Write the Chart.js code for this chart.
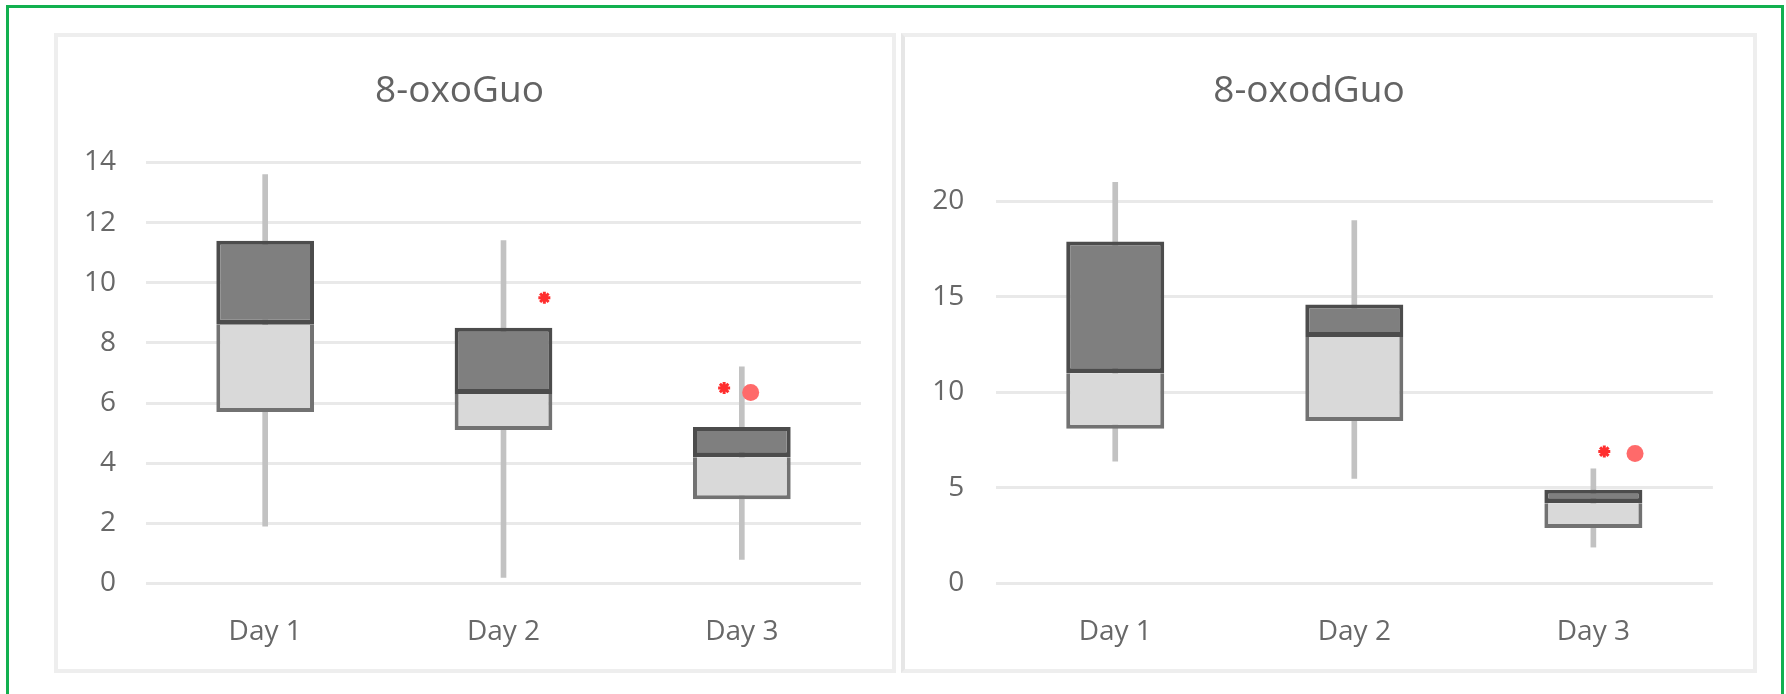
<!DOCTYPE html>
<html>
<head>
<meta charset="utf-8">
<title>8-oxoGuo / 8-oxodGuo</title>
<script src="https://cdn.jsdelivr.net/npm/chart.js@4/dist/chart.umd.min.js"></script>
<style>
  html, body { margin: 0; padding: 0; background: #fff; }
  body { width: 1786px; height: 694px; position: relative; overflow: hidden; }
  .frame {
    position: absolute; left: 6px; top: 5px; width: 1772px; height: 720px;
    border: 3px solid #12b04f;
  }
  .panel {
    position: absolute; top: 33px; height: 632px;
    border: 4px solid #eeeeee; background: #fff;
  }
  #panelLeft { left: 54px; width: 834px; }
  #panelRight { left: 901px; width: 848px; border-left-color: #e6e6e6; }
  canvas { display: block; }
</style>
</head>
<body>
<div class="frame"></div>
<div class="panel" id="panelLeft"><canvas id="guoChart" width="834" height="632"></canvas></div>
<div class="panel" id="panelRight"><canvas id="dguoChart" width="848" height="632"></canvas></div>

<script>
// categories
const days = ["Day 1", "Day 2", "Day 3"];

// 8-oxoGuo box values
const guoMin = [1.9, 0.2, 0.8];
const guoQ1 = [5.7, 5.1, 2.8];
const guoMedian = [8.6, 6.3, 4.2];
const guoQ3 = [11.4, 8.5, 5.2];
const guoMax = [13.6, 11.4, 7.2];
// red marks (x in category units, 0 = Day 1)
const guoStarX = [1.2, 2.08];
const guoStarY = [9.5, 6.5];
const guoDotX = [2.21];
const guoDotY = [6.35];
const guoTicks = [0, 2, 4, 6, 8, 10, 12, 14];

// 8-oxodGuo box values
const dguoMin = [6.4, 5.5, 1.9];
const dguoQ1 = [8.1, 8.5, 2.9];
const dguoMedian = [11.0, 12.9, 4.2];
const dguoQ3 = [17.9, 14.6, 4.9];
const dguoMax = [21.0, 19.0, 6.0];
const dguoStarX = [2.22];
const dguoStarY = [6.9];
const dguoDotX = [2.37];
const dguoDotY = [6.8];
const dguoTicks = [0, 5, 10, 15, 20];

const textColor = "#686868";
const fontFamily = "'Open Sans', sans-serif";

function pairs(a, b) {
  return a.map((v, i) => [v, b[i]]);
}
function points(xs, ys) {
  return xs.map((x, i) => ({ x: x, y: ys[i] }));
}

function makeBoxChart(id, s) {
  const ctx = document.getElementById(id).getContext("2d");
  return new Chart(ctx, {
    type: "bar",
    data: {
      labels: days,
      datasets: [
        {
          type: "scatter",
          xAxisID: "xm",
          data: points(s.starX, s.starY),
          pointStyle: "star",
          radius: 6,
          borderWidth: 3,
          borderColor: "#ff2f2f",
          backgroundColor: "#ff2f2f",
          order: 0
        },
        {
          type: "scatter",
          xAxisID: "xm",
          data: points(s.dotX, s.dotY),
          pointStyle: "circle",
          radius: 8.5,
          borderWidth: 0,
          backgroundColor: "#ff6a6a",
          order: 0
        },
        {
          // median to Q3
          data: pairs(s.median, s.q3),
          grouped: false,
          barPercentage: 0.41,
          categoryPercentage: 1,
          backgroundColor: "#7f7f7f",
          borderColor: "#4c4c4c",
          borderWidth: { top: 4, left: 4, right: 4, bottom: 5 },
          borderSkipped: false,
          order: 1
        },
        {
          // Q1 to median
          data: pairs(s.q1, s.median),
          grouped: false,
          barPercentage: 0.41,
          categoryPercentage: 1,
          backgroundColor: "#d9d9d9",
          borderColor: "#727272",
          borderWidth: { top: 0, left: 4, right: 4, bottom: 4 },
          borderSkipped: false,
          order: 2
        },
        {
          // whisker
          data: pairs(s.min, s.max),
          grouped: false,
          barThickness: 5,
          backgroundColor: "#c2c2c2",
          borderWidth: 0,
          clip: false,
          order: 3
        }
      ]
    },
    options: {
      responsive: false,
      animation: false,
      events: [],
      layout: { padding: { left: 0, right: s.padRight, top: 0, bottom: 0 } },
      plugins: {
        legend: { display: false },
        tooltip: { enabled: false },
        title: {
          display: true,
          text: s.title,
          color: "#636363",
          font: { family: fontFamily, size: 37, weight: "normal" },
          padding: { top: 31.8, bottom: s.titleBottom }
        }
      },
      scales: {
        x: {
          grid: { display: false },
          border: { display: false },
          ticks: {
            color: textColor,
            font: { family: fontFamily, size: 28 },
            padding: 23.8
          },
          afterFit: function (scale) { scale.height = 85.6; }
        },
        xm: {
          type: "linear",
          display: false,
          min: -0.5,
          max: 2.5
        },
        y: {
          stacked: false,
          min: 0,
          max: s.ticks[s.ticks.length - 1],
          grid: { color: "#e9e9e9", lineWidth: 3, drawTicks: false },
          border: { display: false },
          afterBuildTicks: function (scale) {
            scale.ticks = s.ticks.map(v => ({ value: v }));
          },
          ticks: {
            color: textColor,
            font: { family: fontFamily, size: 28 },
            padding: s.tickPad
          },
          afterFit: function (scale) { scale.width = s.yWidth; }
        }
      }
    }
  });
}

document.addEventListener("DOMContentLoaded", function () {
  makeBoxChart("guoChart", {
    title: "8-oxoGuo",
    min: guoMin, q1: guoQ1, median: guoMedian, q3: guoQ3, max: guoMax,
    starX: guoStarX, starY: guoStarY, dotX: guoDotX, dotY: guoDotY,
    ticks: guoTicks,
    titleBottom: 49.3,
    yWidth: 88,
    tickPad: 30,
    padRight: 31
  });

  makeBoxChart("dguoChart", {
    title: "8-oxodGuo",
    min: dguoMin, q1: dguoQ1, median: dguoMedian, q3: dguoQ3, max: dguoMax,
    starX: dguoStarX, starY: dguoStarY, dotX: dguoDotX, dotY: dguoDotY,
    ticks: dguoTicks,
    titleBottom: 88.2,
    yWidth: 90.7,
    tickPad: 31.4,
    padRight: 40.1
  });
});
</script>
</body>
</html>
